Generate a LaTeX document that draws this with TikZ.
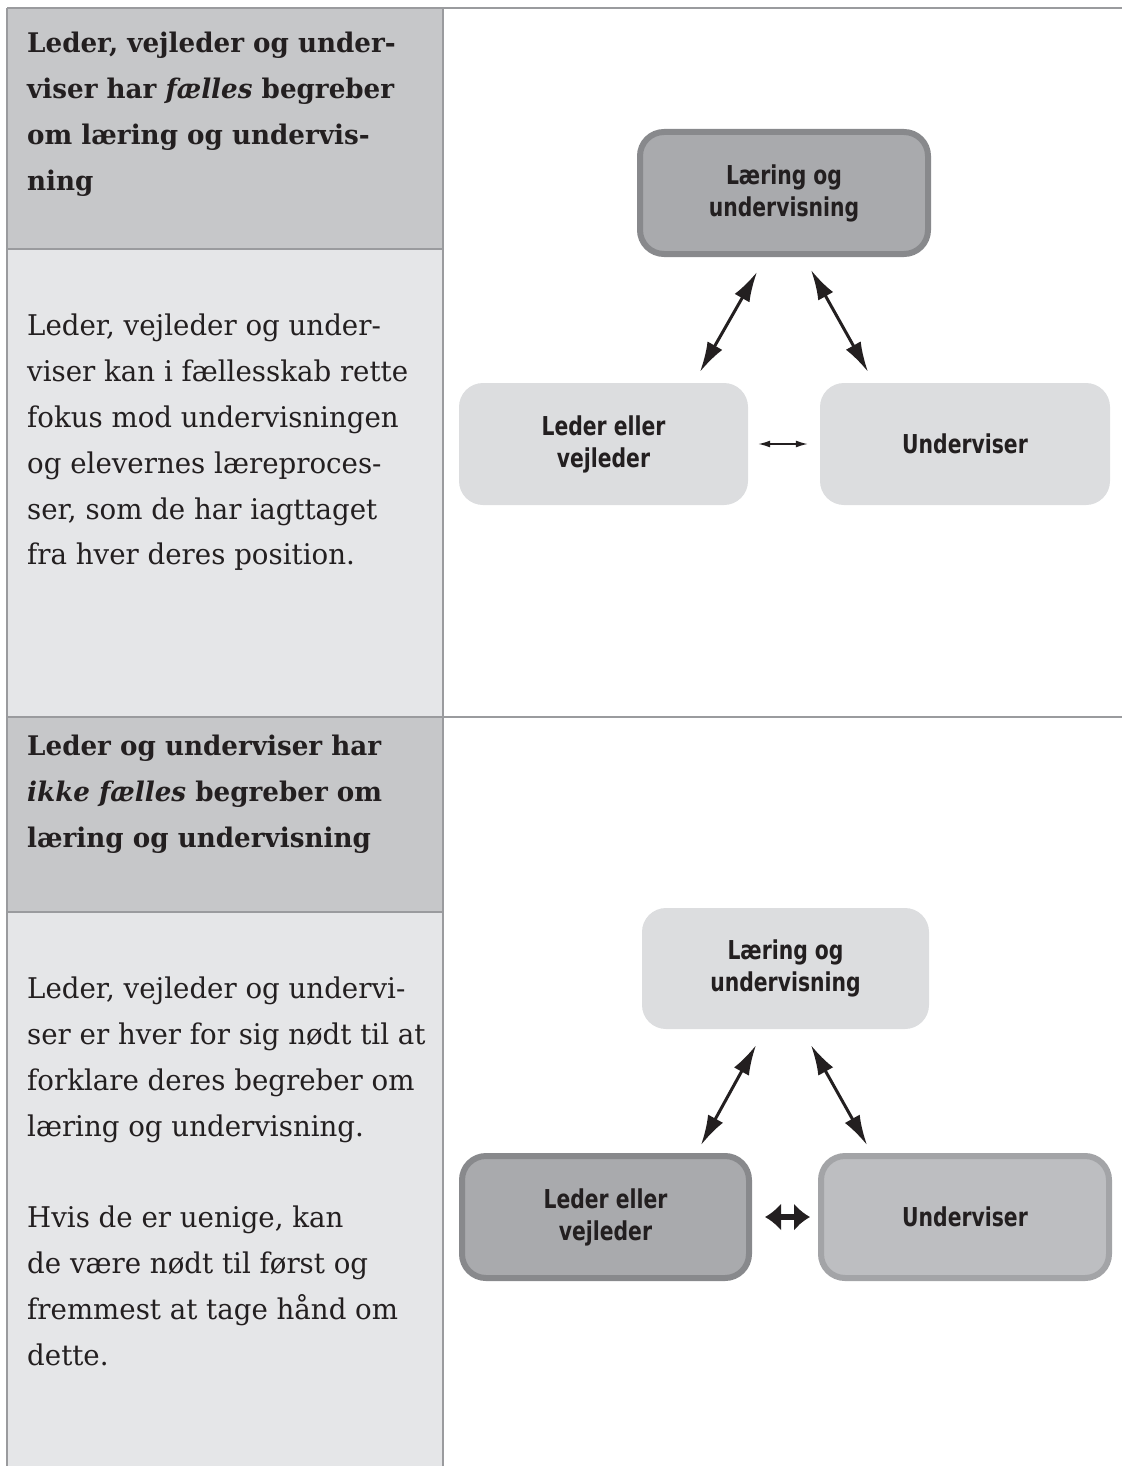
\documentclass[tikz,border=0pt]{standalone}
\usepackage{fontspec}
\usepackage{tikz}
\usetikzlibrary{arrows.meta, positioning}
\setmainfont{DejaVu Serif}[FakeStretch=0.97]
\newfontfamily\boxfont[FakeStretch=0.87]{DejaVu Sans Condensed Bold}
\definecolor{headgray}{HTML}{C6C7C9}
\definecolor{bodygray}{HTML}{E5E6E8}
\definecolor{rulegray}{HTML}{9A9B9E}
\definecolor{inkdark}{HTML}{231F20}
\definecolor{paledgray}{HTML}{DCDDDF}
\definecolor{deepfill}{HTML}{A9AAAD}
\definecolor{deepedge}{HTML}{88898C}
\definecolor{midfill}{HTML}{BDBEC1}
\definecolor{midedge}{HTML}{A3A4A7}

\tikzset{
  palebox/.style={rectangle, rounded corners=24pt, fill=paledgray, align=center,
    font=\boxfont\fontsize{26}{32}\selectfont, text=inkdark},
  deepbox/.style={palebox, fill=deepfill, draw=deepedge, line width=6pt},
  midbox/.style={palebox, fill=midfill, draw=midedge, line width=6pt},
  bigarrow/.style={{Latex[length=30pt,width=17pt]}-{Latex[length=30pt,width=17pt]}, line width=3pt, inkdark},
  leftcol/.style={anchor=north west, inner sep=0pt, align=left, text=inkdark,
    font=\fontsize{28.5}{45.8}\selectfont},
  lefthead/.style={leftcol, font=\bfseries\fontsize{27}{45.8}\selectfont}
}

\begin{document}
\begin{tikzpicture}[x=1pt, y=-1pt]
\useasboundingbox (0,0) rectangle (1122,1466);

% left column backgrounds
\fill[headgray] (7,8) rectangle (443,249);
\fill[bodygray] (7,249) rectangle (443,717);
\fill[headgray] (7,717) rectangle (443,912);
\fill[bodygray] (7,912) rectangle (443,1466);
\draw[rulegray, line width=1.5pt] (7,8) -- (1122,8);
\draw[rulegray, line width=1.5pt] (7,717) -- (1122,717);
\draw[rulegray, line width=1.5pt] (7,249) -- (443,249);
\draw[rulegray, line width=1.5pt] (7,912) -- (443,912);
\draw[rulegray, line width=1.5pt] (7,8) -- (7,1466);
\draw[rulegray, line width=1.5pt] (443,8) -- (443,1466);

% left column texts
\node[lefthead] (headA) at (27,32)
  {Leder, vejleder og under-\\viser har \textit{fælles} begreber\\om læring og undervis-\\ning};
\node[leftcol] (bodyA) at (27,314)
  {Leder, vejleder og under-\\viser kan i fællesskab rette\\fokus mod undervisningen\\og elevernes læreproces-\\ser, som de har iagttaget\\fra hver deres position.};
\node[lefthead] (headB) at (27,735)
  {Leder og underviser har\\\textit{ikke fælles} begreber om\\læring og undervisning};
\node[leftcol] (bodyB) at (27,977)
  {Leder, vejleder og undervi-\\ser er hver for sig nødt til at\\forklare deres begreber om\\læring og undervisning.\\[45.8pt]Hvis de er uenige, kan\\de være nødt til først og\\fremmest at tage hånd om\\dette.};

% first diagram
\node[deepbox, minimum width=288pt, minimum height=122pt] (topA) at (784,193) {Læring og\\undervisning};
\node[palebox, minimum width=289pt, minimum height=122pt] (leadA) at (603.5,444) {Leder eller\\vejleder};
\node[palebox, minimum width=290pt, minimum height=122pt] (teachA) at (965,444) {Underviser};
\draw[bigarrow] ([shift={(-27,15)}]topA.south) -- ([shift={(96.5,-11)}]leadA.north);
\draw[bigarrow] ([shift={(27,13)}]topA.south) -- ([shift={(-97,-11)}]teachA.north);
\draw[{Latex[length=12pt,width=7pt]}-{Latex[length=12pt,width=7pt]}, line width=1.5pt, inkdark,
  shorten <=10pt, shorten >=12pt] (leadA.east) -- (teachA.west);

% second diagram
\node[palebox, minimum width=287pt, minimum height=121pt] (topB) at (785.5,968.5) {Læring og\\undervisning};
\node[deepbox, minimum width=287pt, minimum height=122pt] (leadB) at (605.5,1217) {Leder eller\\vejleder};
\node[midbox, minimum width=288pt, minimum height=122pt] (teachB) at (965,1217) {Underviser};
\draw[bigarrow] ([shift={(-29.5,16)}]topB.south) -- ([shift={(95.5,-8)}]leadB.north);
\draw[bigarrow] ([shift={(25.5,16)}]topB.south) -- ([shift={(-98,-8)}]teachB.north);
\draw[{Latex[length=16pt,width=28pt]}-{Latex[length=16pt,width=28pt]}, line width=6pt, inkdark,
  shorten <=13pt, shorten >=8pt] (leadB.east) -- (teachB.west);
\end{tikzpicture}
\end{document}
